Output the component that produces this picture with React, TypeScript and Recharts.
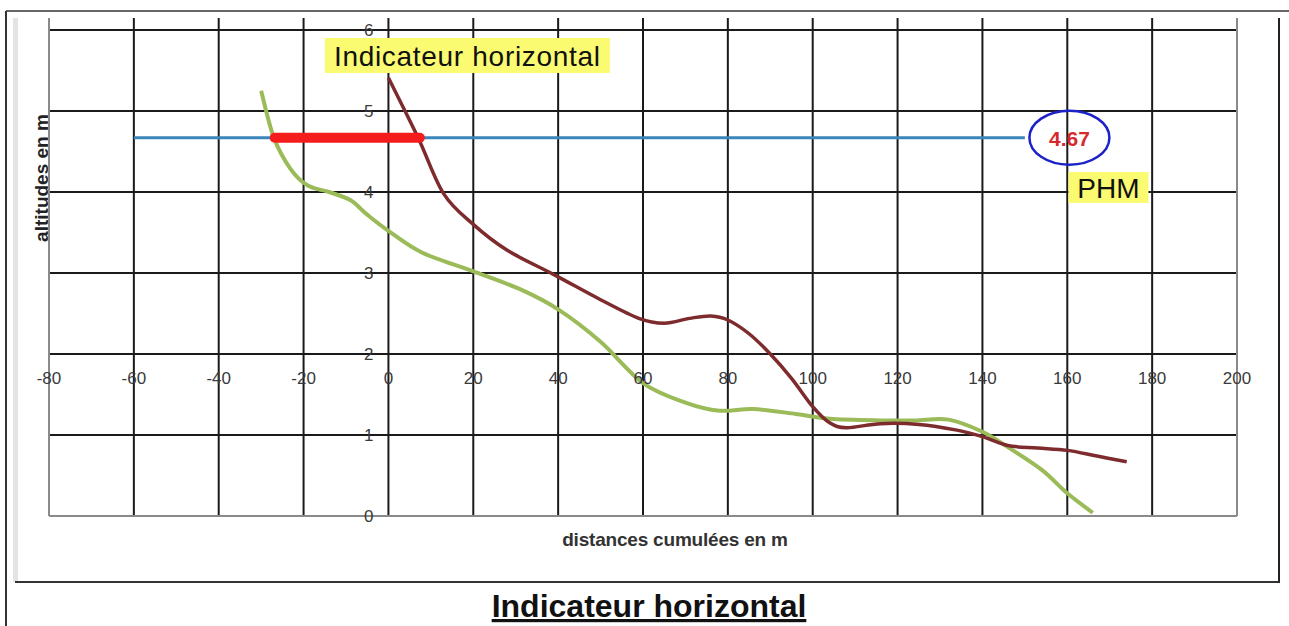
import React from 'react';
import {
    LineChart,
    Line,
    XAxis,
    YAxis,
    CartesianGrid,
    ReferenceLine,
    ReferenceDot,
} from 'recharts';

// profil vert
const vertDistances = [-30, -27, -23, -19, -14, -9, -5, 0, 8, 20, 31, 40, 50, 60, 70, 78, 86, 96, 104, 116, 124, 132, 140, 146, 154, 160, 166];
const vertAltitudes = [5.25, 4.67, 4.28, 4.08, 4.0, 3.9, 3.72, 3.52, 3.25, 3.02, 2.8, 2.55, 2.15, 1.64, 1.4, 1.3, 1.32, 1.26, 1.2, 1.18, 1.18, 1.19, 1.04, 0.85, 0.57, 0.28, 0.04];

// profil brun
const brunDistances = [0, 7, 13, 20, 28, 39, 50, 59, 65, 71, 76, 80, 85, 90, 95, 100, 104, 108, 116, 125, 134, 140, 146, 153, 160, 167, 174];
const brunAltitudes = [5.41, 4.67, 3.98, 3.6, 3.28, 2.98, 2.67, 2.44, 2.38, 2.44, 2.47, 2.42, 2.25, 2.0, 1.7, 1.35, 1.15, 1.09, 1.14, 1.13, 1.06, 0.98, 0.87, 0.84, 0.81, 0.74, 0.67];

const xTicks = [-80, -60, -40, -20, 0, 20, 40, 60, 80, 100, 120, 140, 160, 180, 200];
const yTicks = [0, 1, 2, 3, 4, 5, 6];

const PHM = 4.67;
const phmLigne = [-60, 150];
const indicateur = [-26.8, 7.4];

const W = 1289;
const H = 626;
const PLOT = { left: 49, top: 18, right: 1237, bottom: 516 };
const X_MIN = -80;
const X_MAX = 200;
const Y_MAX = 6.148;
const AXIS_SIZE = 20;

const FONT = '"Liberation Sans", Arial, sans-serif';

const vertData = vertDistances.map((d, i) => ({ x: d, y: vertAltitudes[i] }));
const brunData = brunDistances.map((d, i) => ({ x: d, y: brunAltitudes[i] }));

// the axes cross at x=0 / y=2, so labels are shifted from the plot edges
const plotH = PLOT.bottom - PLOT.top;
const plotW = PLOT.right - PLOT.left;
const xAxisCross = plotH * (2 / Y_MAX);
const yAxisCross = plotW * ((0 - X_MIN) / (X_MAX - X_MIN));

// smooth line like the spreadsheet one (catmull-rom through the points)
const lisse = (context: any) => {
    let pts: number[][] = [];
    return {
        areaStart() {},
        areaEnd() {},
        lineStart() {
            pts = [];
        },
        point(x: number, y: number) {
            pts.push([+x, +y]);
        },
        lineEnd() {
            const n = pts.length;
            if (!n) return;
            context.moveTo(pts[0][0], pts[0][1]);
            for (let i = 0; i < n - 1; i++) {
                const p0 = pts[i - 1] || pts[i];
                const p1 = pts[i];
                const p2 = pts[i + 1];
                const p3 = pts[i + 2] || p2;
                context.bezierCurveTo(
                    p1[0] + (p2[0] - p0[0]) / 6,
                    p1[1] + (p2[1] - p0[1]) / 6,
                    p2[0] - (p3[0] - p1[0]) / 6,
                    p2[1] - (p3[1] - p1[1]) / 6,
                    p2[0],
                    p2[1]
                );
            }
        },
    };
};

const XTick = (props: any) => {
    const { x, payload } = props;
    return (
        <text x={x} y={PLOT.bottom - xAxisCross + 30} textAnchor="middle" fontSize={17} fill="#3a3a3a" fontFamily={FONT}>
            {payload.value}
        </text>
    );
};

const YTick = (props: any) => {
    const { y, payload } = props;
    return (
        <text x={PLOT.left + yAxisCross - 15} y={y + 6} textAnchor="end" fontSize={17} fill="#3a3a3a" fontFamily={FONT}>
            {payload.value}
        </text>
    );
};

const YellowLabel = (text: string, w: number, h: number, fontSize: number, spacing = 0) => (props: any) => {
    const { cx, cy } = props;
    return (
        <g>
            <rect x={cx - w / 2} y={cy - h / 2} width={w} height={h} fill="#fbfb72" />
            <text x={cx} y={cy + fontSize * 0.38} textAnchor="middle" fontSize={fontSize} fill="#111" fontFamily={FONT} letterSpacing={spacing}>
                {text}
            </text>
        </g>
    );
};

const PhmBubble = (props: any) => {
    const { cx, cy } = props;
    return (
        <g>
            <ellipse cx={cx} cy={cy} rx={40} ry={27} fill="none" stroke="#1c22c8" strokeWidth={2.5} />
            <text x={cx} y={cy + 8} textAnchor="middle" fontSize={21} fontWeight="bold" fill="#d62a2a" fontFamily={FONT}>
                {PHM.toFixed(2)}
            </text>
        </g>
    );
};

export default function App() {
    return (
        <div style={{ position: 'absolute', left: 0, top: 0, width: W, height: H, background: '#fff', fontFamily: FONT }}>
            <svg width={W} height={H} style={{ position: 'absolute', left: 0, top: 0 }}>
                <rect x={13} y={18} width={5} height={564} fill="#e4e4e4" />
                <line x1={6} y1={11} x2={6} y2={626} stroke="#333" strokeWidth={2} />
                <line x1={6} y1={11} x2={1289} y2={11} stroke="#333" strokeWidth={1.5} />
                <line x1={1279} y1={18} x2={1279} y2={583} stroke="#222" strokeWidth={2} />
                <line x1={15} y1={582} x2={1279} y2={582} stroke="#333" strokeWidth={2} />
                <text x={675} y={546} textAnchor="middle" fontSize={19} fontWeight="bold" fill="#333" fontFamily={FONT} letterSpacing={-0.2}>
                    distances cumulées en m
                </text>
                <text x={48} y={178} transform="rotate(-90, 48, 178)" textAnchor="middle" fontSize={19} fontWeight="bold" fill="#222" fontFamily={FONT}>
                    altitudes en m
                </text>
                <text x={649} y={617} textAnchor="middle" fontSize={32} fontWeight="bold" fill="#111" fontFamily={FONT} textDecoration="underline">
                    Indicateur horizontal
                </text>
            </svg>
            <div style={{ position: 'absolute', left: 0, top: 0 }}>
                <LineChart
                    width={W}
                    height={H}
                    margin={{ top: PLOT.top, left: PLOT.left - AXIS_SIZE, right: W - PLOT.right, bottom: H - PLOT.bottom - AXIS_SIZE }}
                >
                    <CartesianGrid stroke="#1a1a1a" strokeWidth={2} horizontalValues={yTicks} verticalValues={xTicks} />
                    <XAxis
                        type="number"
                        dataKey="x"
                        domain={[X_MIN, X_MAX]}
                        ticks={xTicks}
                        height={AXIS_SIZE}
                        axisLine={false}
                        tickLine={false}
                        tick={<XTick />}
                        interval={0}
                        allowDataOverflow
                    />
                    <YAxis
                        type="number"
                        dataKey="y"
                        domain={[0, Y_MAX]}
                        ticks={yTicks}
                        width={AXIS_SIZE}
                        axisLine={false}
                        tickLine={false}
                        tick={<YTick />}
                        interval={0}
                        allowDataOverflow
                    />
                    <ReferenceLine x={X_MIN} stroke="#8a8a8a" strokeWidth={2} />
                    <ReferenceLine x={X_MAX} stroke="#8a8a8a" strokeWidth={2} />
                    <ReferenceLine y={0} stroke="#8a8a8a" strokeWidth={2} />
                    <ReferenceLine
                        segment={[{ x: phmLigne[0], y: PHM }, { x: phmLigne[1], y: PHM }]}
                        stroke="#3a85b9"
                        strokeWidth={3}
                    />
                    <Line
                        data={vertData}
                        dataKey="y"
                        type={lisse as any}
                        stroke="#9bbb59"
                        strokeWidth={4}
                        dot={false}
                        isAnimationActive={false}
                    />
                    <Line
                        data={brunData}
                        dataKey="y"
                        type={lisse as any}
                        stroke="#7d2b2d"
                        strokeWidth={3.5}
                        dot={false}
                        isAnimationActive={false}
                    />
                    <ReferenceLine
                        segment={[{ x: indicateur[0], y: PHM }, { x: indicateur[1], y: PHM }]}
                        stroke="#f51c1c"
                        strokeWidth={10}
                        strokeLinecap="round"
                    />
                    <ReferenceDot x={18.6} y={5.685} r={0} shape={YellowLabel('Indicateur horizontal', 285, 35, 28, 0.7)} />
                    <ReferenceDot x={160.5} y={PHM} r={0} shape={PhmBubble} />
                    <ReferenceDot x={169.7} y={4.056} r={0} shape={YellowLabel('PHM', 80, 31, 28)} />
                </LineChart>
            </div>
        </div>
    );
}
